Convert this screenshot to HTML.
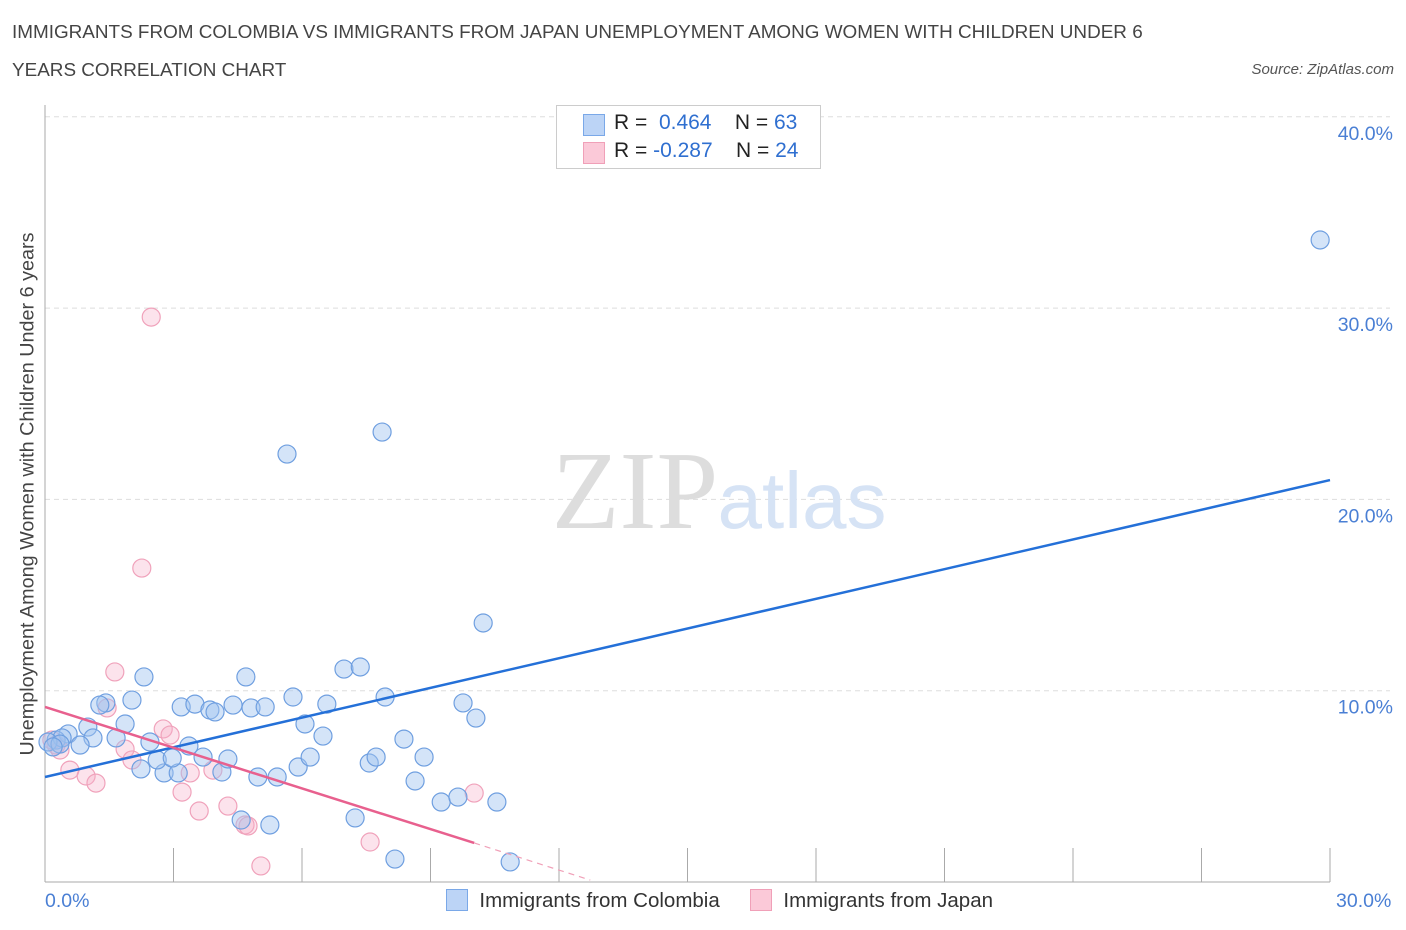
<!DOCTYPE html>
<html><head><meta charset="utf-8"><style>
body{margin:0;background:#fff;font-family:"Liberation Sans",sans-serif;}
#wrap{position:relative;width:1406px;height:930px;overflow:hidden;}
.t{position:absolute;white-space:nowrap;}
</style></head><body><div id="wrap">
<div class="t" style="left:12px;top:14px;font-size:18.9px;color:#444;line-height:38px;">IMMIGRANTS FROM COLOMBIA VS IMMIGRANTS FROM JAPAN UNEMPLOYMENT AMONG WOMEN WITH CHILDREN UNDER 6<br>YEARS CORRELATION CHART</div>
<div class="t" style="right:12px;top:61px;font-size:15px;color:#555;font-style:italic;">Source: ZipAtlas.com</div>
<svg id="svg" width="1406" height="930" style="position:absolute;left:0;top:0"></svg>
</div>
<script>
const blueX=[29.77,7.87,5.65,10.23,2.31,4.69,6.98,7.36,5.79,7.94,2.03,1.42,1.28,3.18,3.50,3.85,3.97,4.39,4.81,5.14,6.58,9.76,10.06,1.87,6.07,1.00,0.54,1.12,1.66,2.45,3.36,6.49,8.38,0.26,0.40,0.82,2.24,2.78,3.11,2.62,2.97,3.69,4.13,4.27,4.97,5.42,5.91,6.19,7.57,7.73,8.64,8.85,9.25,9.64,10.55,4.58,5.25,7.24,8.17,10.86,0.07,0.35,0.19];
const blueY=[33.56,23.52,22.37,13.54,10.72,10.72,11.13,11.24,9.67,9.67,9.51,9.36,9.25,9.15,9.30,8.99,8.89,9.25,9.10,9.15,9.30,9.36,8.57,8.26,8.26,8.10,7.74,7.53,7.53,7.32,7.11,7.63,7.47,7.42,7.53,7.16,5.91,5.70,5.70,6.38,6.48,6.53,5.75,6.43,5.49,5.49,6.01,6.53,6.22,6.53,5.28,6.53,4.18,4.44,4.18,3.24,2.98,3.35,1.20,1.05,7.32,7.21,7.06];
const pinkX=[2.48,2.26,1.63,1.45,2.76,2.92,1.87,2.03,0.58,0.96,1.19,0.26,0.16,0.35,3.20,3.60,3.39,3.92,4.27,4.67,4.74,5.04,7.59,10.02];
const pinkY=[29.53,16.41,10.98,9.10,8.00,7.68,6.95,6.38,5.85,5.54,5.17,7.16,7.42,6.90,4.70,3.71,5.70,5.85,3.97,2.98,2.93,0.84,2.09,4.65];
const blueLine=[[0,5.49],[30,21.01]];
const pinkLine=[[0,9.15],[10.02,2.04]];
const pinkDash=[[10.02,2.04],[12.73,0.1]];
const yTicks=[10,20,30,40];
const yTickLabels=["10.0%","20.0%","30.0%","40.0%"];
const NS="http://www.w3.org/2000/svg";
const sx=v=>45+v*1285/30, sy=v=>882-v*19.13;
const svg=document.getElementById('svg');
function mk(tag,attrs){const e=document.createElementNS(NS,tag);for(const k in attrs)e.setAttribute(k,attrs[k]);svg.appendChild(e);return e;}
yTicks.forEach((v,i)=>{
 const g=mk('line',{x1:45,x2:1390,y1:sy(v),y2:sy(v),stroke:'#ddd','stroke-dasharray':'5,4'});
 
 
 const t=mk('text',{x:1393,y:sy(v)+23,'text-anchor':'end','font-size':19.5,fill:'#4a7fd4','font-family':'Liberation Sans'});
 t.textContent=yTickLabels[i];
 
 
});
const ax=mk('line',{x1:45,x2:45,y1:105,y2:882,stroke:'#aaa'});


const bx=mk('line',{x1:45,x2:1330,y1:882,y2:882,stroke:'#aaa'});


for(let i=0;i<=10;i++){const tk=mk('line',{x1:sx(i*3),x2:sx(i*3),y1:848,y2:882,stroke:'#aaa'});
 
 }
const w1=mk('text',{x:635,y:528,'text-anchor':'middle','font-size':111,fill:'#ddd','font-family':'Liberation Serif'});w1.textContent='ZIP';


const w2=mk('text',{x:802,y:528,'text-anchor':'middle','font-size':80,fill:'#d6e3f5','font-family':'Liberation Sans'});w2.textContent='atlas';


pinkX.forEach((v,i)=>{const c=mk('circle',{cx:sx(v),cy:sy(pinkY[i]),r:9,fill:'rgba(245,175,200,0.35)',stroke:'#f0a2bb','stroke-width':1.2});
 
 });
blueX.forEach((v,i)=>{const c=mk('circle',{cx:sx(v),cy:sy(blueY[i]),r:9,fill:'rgba(160,196,240,0.45)',stroke:'#6f9fe0','stroke-width':1.2});
 
 });
const bl=mk('line',{x1:sx(blueLine[0][0]),y1:sy(blueLine[0][1]),x2:sx(blueLine[1][0]),y2:sy(blueLine[1][1]),stroke:'#2470d8','stroke-width':2.5});


const pl=mk('line',{x1:sx(pinkLine[0][0]),y1:sy(pinkLine[0][1]),x2:sx(pinkLine[1][0]),y2:sy(pinkLine[1][1]),stroke:'#e8608e','stroke-width':2.5});


const pd=mk('line',{x1:sx(pinkDash[0][0]),y1:sy(pinkDash[0][1]),x2:sx(pinkDash[1][0]),y2:sy(pinkDash[1][1]),stroke:'#f0a0b8','stroke-width':1.2,'stroke-dasharray':'6,5'});


</script>
<div class="t" style="left:28px;top:494px;font-size:19.8px;color:#444;transform:translate(-50%,-50%) rotate(-90deg);">Unemployment Among Women with Children Under 6 years</div>
<div class="t" style="left:45px;top:890px;font-size:19.5px;color:#4a7fd4;">0.0%</div>
<div class="t" style="left:1336px;top:890px;font-size:19.5px;color:#4a7fd4;">30.0%</div>
<div style="position:absolute;left:556px;top:105px;width:263px;height:62px;border:1px solid #ccc;background:#fff;font-size:21px;">
 <div style="position:absolute;left:26px;top:8px;width:20px;height:20px;background:#bcd4f6;border:1px solid #7aa8e8;"></div>
 <div class="t" style="left:57px;top:5px;color:#222;">R = &nbsp;<span style="color:#2f6fd0">0.464</span>&nbsp;&nbsp;&nbsp; N = <span style="color:#2f6fd0">63</span></div>
 <div style="position:absolute;left:26px;top:36px;width:20px;height:20px;background:#fbc9d8;border:1px solid #f0a0b8;"></div>
 <div class="t" style="left:57px;top:33px;color:#222;">R = <span style="color:#2f6fd0">-0.287</span>&nbsp;&nbsp;&nbsp; N = <span style="color:#2f6fd0">24</span></div>
</div>
<div style="position:absolute;left:446px;top:889px;font-size:20.5px;color:#333;">
 <div style="position:absolute;left:0;top:0;white-space:nowrap;"><span style="display:inline-block;width:20px;height:20px;background:#bcd4f6;border:1px solid #7aa8e8;vertical-align:-4px;"></span>&nbsp; Immigrants from Colombia</div>
 <div style="position:absolute;left:304px;top:0;white-space:nowrap;"><span style="display:inline-block;width:20px;height:20px;background:#fbc9d8;border:1px solid #f0a0b8;vertical-align:-4px;"></span>&nbsp; Immigrants from Japan</div>
</div>
</body></html>
